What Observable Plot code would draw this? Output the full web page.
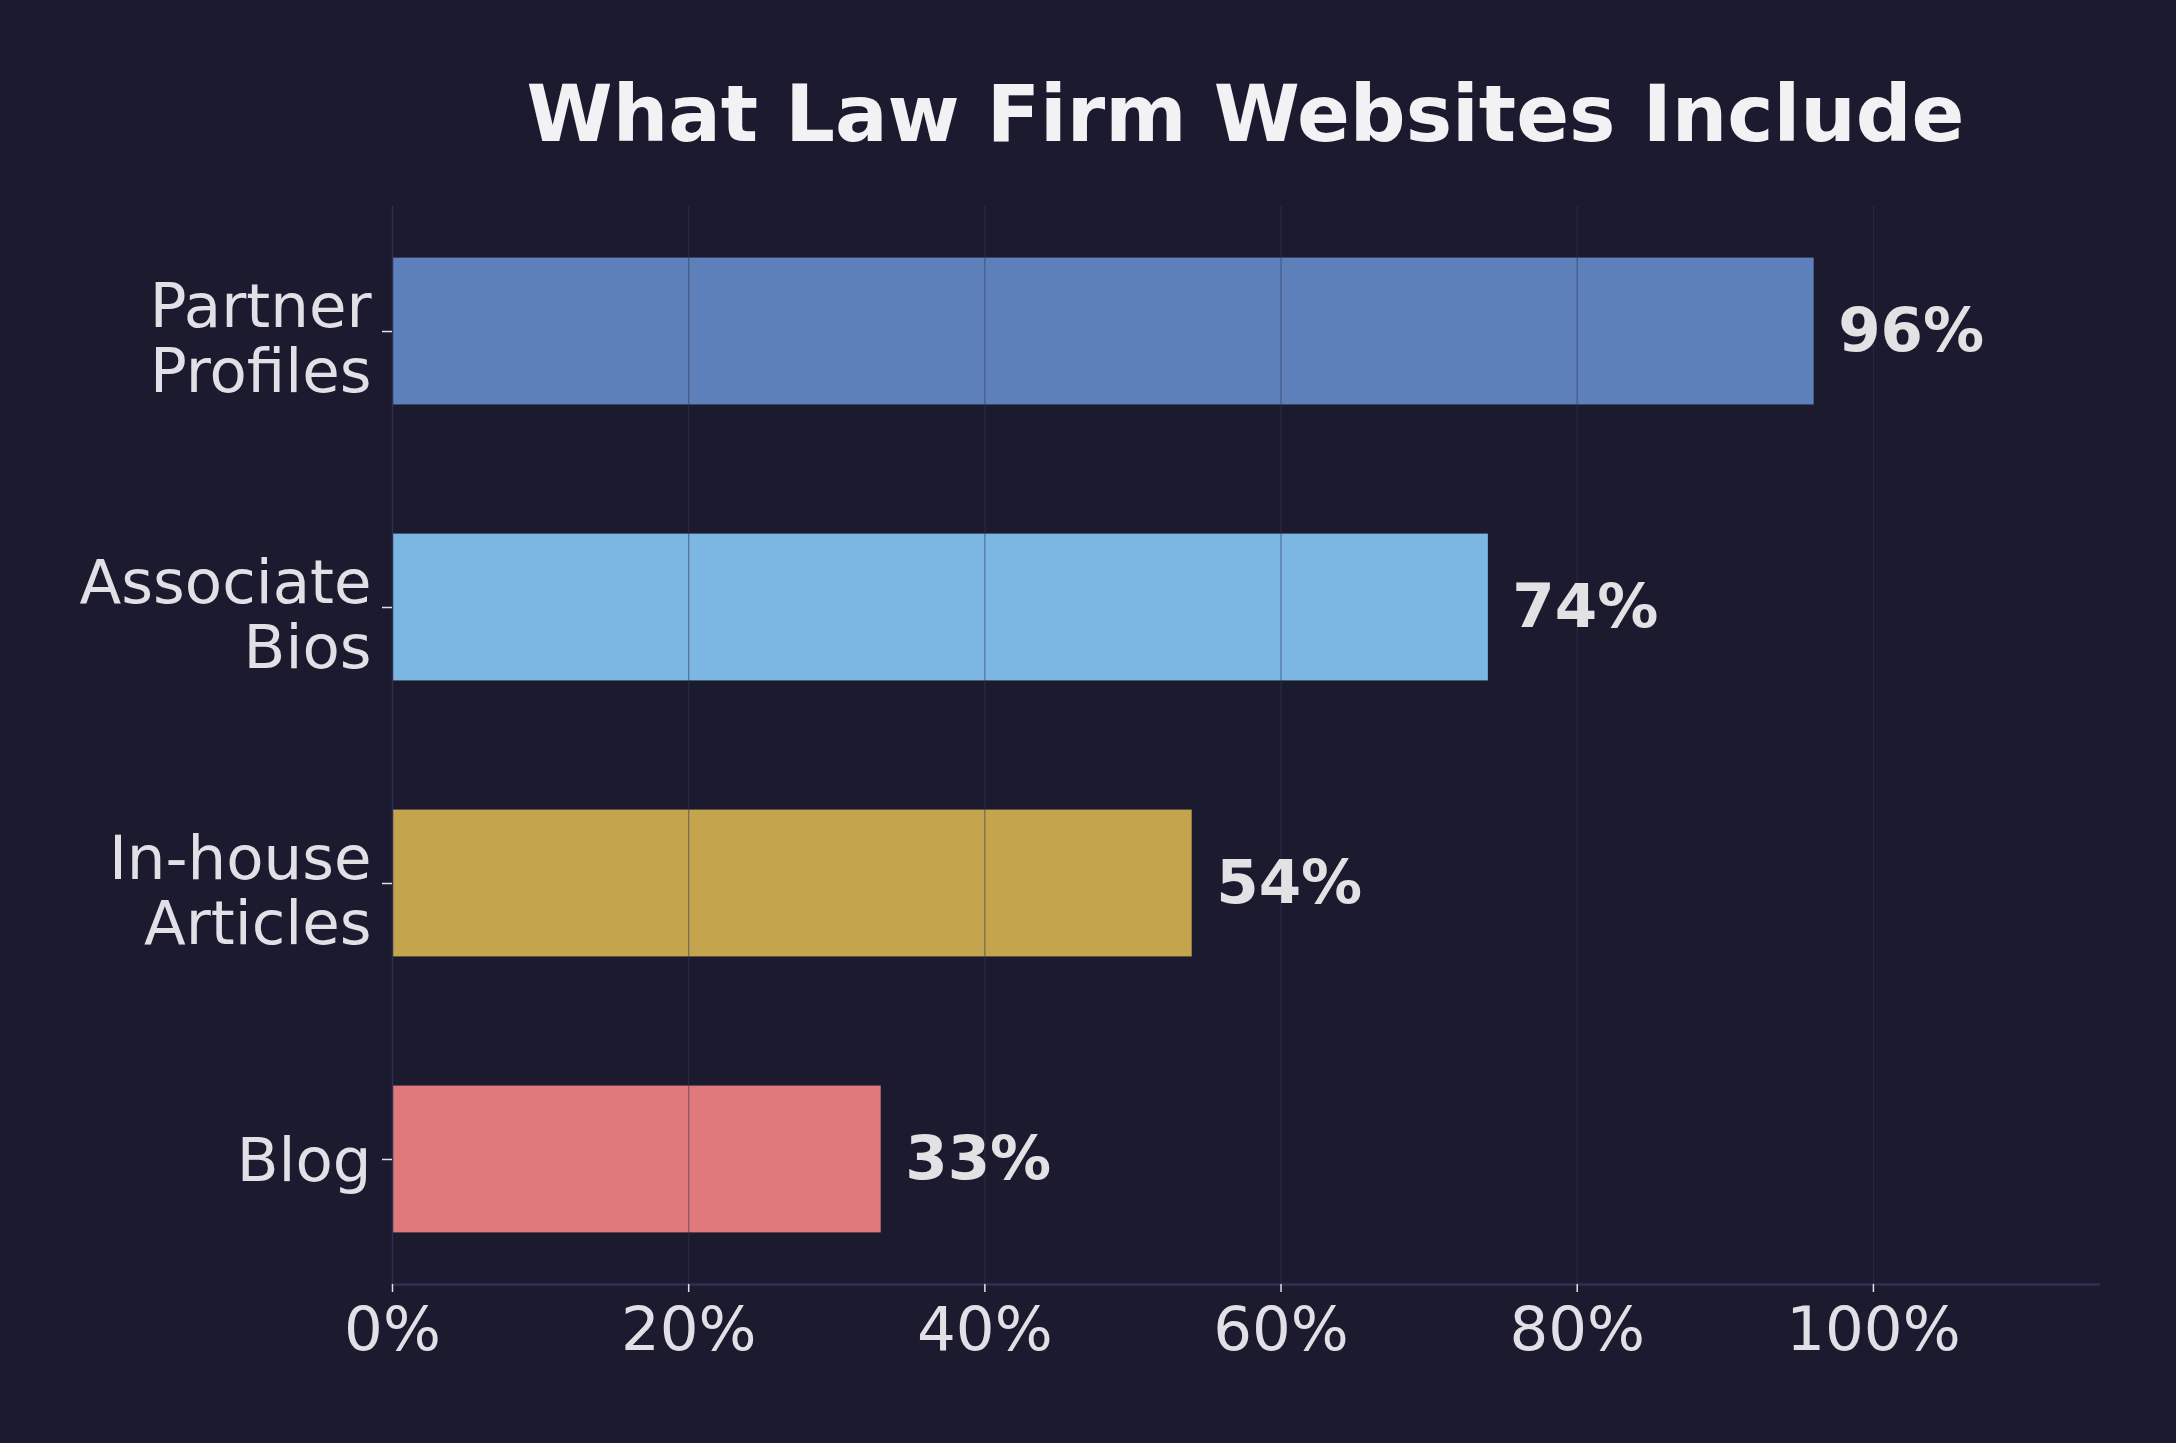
<!DOCTYPE html>
<html><head><meta charset="utf-8">
<script src="https://cdn.jsdelivr.net/npm/d3@7"></script>
<script src="https://cdn.jsdelivr.net/npm/@observablehq/plot@0.6"></script>
<style>html,body{margin:0;padding:0;background:#1c1a2e;}</style>
</head><body><div id="chart"></div>
<script>
const categories = ["Partner Profiles", "Associate Bios", "In-house Articles", "Blog"];
const labels = ["Partner\nProfiles", "Associate\nBios", "In-house\nArticles", "Blog"];
const values = [96, 74, 54, 33];
const colors = ["#5d80ba", "#7cb6e2", "#c4a54d", "#e07a7a"];
const xTicks = [0, 20, 40, 60, 80, 100];
const title = "What Law Firm Websites Include";

const data = categories.map((c, i) => ({category: c, value: values[i], color: colors[i]}));
const labelOf = d => labels[categories.indexOf(d)];
const multi = categories.filter(c => labelOf(c).includes("\n"));
const single = categories.filter(c => !labelOf(c).includes("\n"));
const txt = "#e0e0e6";

const plot = Plot.plot({
  width: 2176, height: 1443,
  marginLeft: 392, marginRight: 78, marginTop: 206, marginBottom: 159,
  style: {background: "#1c1a2e", fontFamily: "DejaVu Sans", color: txt},
  x: {domain: [0, 115.2]},
  y: {domain: categories, paddingInner: 0.468, paddingOuter: 0.187, round: false},
  color: {type: "identity"},
  marks: [
    Plot.barX(data, {x: "value", y: "category", fill: "color"}),
    Plot.gridX(xTicks.slice(1), {stroke: "#34365a", strokeOpacity: 0.5, strokeWidth: 1.3}),
    Plot.ruleX([0], {stroke: "#2f2f55", strokeWidth: 1.5}),
    Plot.frame({anchor: "bottom", stroke: "#2f2f55", strokeWidth: 2.5}),
    Plot.axisX(xTicks, {tickFormat: d => d + "%", tickSize: 8, tickPadding: 14, fontSize: 61, label: null, color: txt, strokeWidth: 1.5}),
    Plot.axisY(categories, {tickSize: 10, tickFormat: () => "", label: null, color: txt, strokeWidth: 1.5}),
    Plot.axisY(multi, {tickSize: 0, tickPadding: 21, tickFormat: labelOf, fontSize: 61, lineHeight: 1.076, dy: 7, label: null, color: txt}),
    Plot.axisY(single, {tickSize: 0, tickPadding: 21, tickFormat: labelOf, fontSize: 61, lineHeight: 1.076, dy: 1, label: null, color: txt}),
    Plot.text(data, {x: "value", y: "category", text: d => d.value + "%", dx: 24, textAnchor: "start", fontSize: 61, fontWeight: "bold", fill: "#e2e2e4"}),
    Plot.text([title], {frameAnchor: "top", dy: -66, lineAnchor: "bottom", fontSize: 78, fontWeight: "bold", fill: "#f2f2f4"})
  ]
});
document.getElementById("chart").appendChild(plot);
</script>
</body></html>
